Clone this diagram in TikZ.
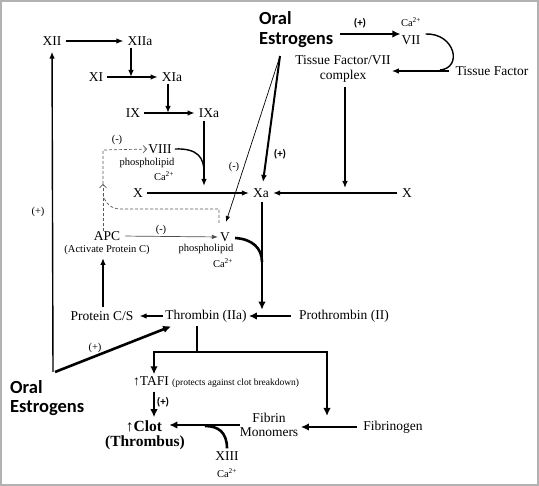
\documentclass[tikz,border=0pt]{standalone}
\usepackage{fontspec}
\setmainfont{Liberation Serif}
\newfontfamily\oefont{Carlito}
\usetikzlibrary{arrows.meta,calc}
\begin{document}
\begin{tikzpicture}[x=1pt,y=-1pt,
  lbl/.style={font=\fontsize{13.5}{15}\selectfont, inner sep=0pt},
  sm/.style={font=\fontsize{10.5}{12}\selectfont, inner sep=0pt},
  tiny/.style={font=\fontsize{10.5}{12}\selectfont, inner sep=0pt},
  sign/.style={font=\fontsize{10.5}{12}\selectfont, inner sep=0pt},
  bsign/.style={font=\oefont\bfseries\fontsize{11}{12}\selectfont, inner sep=0pt},
  oe/.style={font=\oefont\bfseries\fontsize{18.5}{22}\selectfont, inner sep=0pt, anchor=west},
  bold/.style={font=\bfseries\fontsize{15.5}{17}\selectfont, inner sep=0pt},
  arr/.style={line width=1.4pt, -{Latex[length=7pt,width=5.5pt]}},
  tarr/.style={line width=2.6pt, -{Latex[length=8pt,width=7.5pt]}},
  tline/.style={line width=2.6pt},
  thinarr/.style={line width=0.7pt, -{Latex[length=6pt,width=4.5pt]}},
  dsh/.style={line width=0.7pt, gray!70!black, dash pattern=on 3pt off 2pt},
  gap/.style={shorten <=4pt, shorten >=4pt},
]
\useasboundingbox (0,0) rectangle (539,486);
\draw[gray!60, line width=1.5pt] (1,1) rectangle (538,485);

% ---- nodes
\node[lbl] (XII) at (52,41) {XII};
\node[lbl] (XIIa) at (140,41) {XIIa};
\node[lbl] (XI) at (96,77) {XI};
\node[lbl] (XIa) at (172,77) {XIa};
\node[lbl] (IX) at (133,113) {IX};
\node[lbl] (IXa) at (209,113) {IXa};
\node[lbl] (VIII) at (160,149) {VIII};
\node[sm] (VIIIp) at (147,163) {phospholipid};
\node[tiny] (VIIIca) at (164,176) {Ca\textsuperscript{2+}};
\node[lbl] (X) at (138,193) {X};
\node[lbl] (Xa) at (261,193) {Xa};
\node[lbl] (Xr) at (407,193) {X};
\node[lbl] (APC) at (107,236) {APC};
\node[sm] (APCs) at (107,250) {(Activate Protein C)};
\node[lbl] (V) at (225,237) {V};
\node[sm] (Vp) at (206,249) {phospholipid};
\node[tiny] (Vca) at (223,263) {Ca\textsuperscript{2+}};
\node[lbl] (Thr) at (206,316) {Thrombin (IIa)};
\node[lbl] (Pro) at (344,316) {Prothrombin (II)};
\node[lbl] (PCS) at (102,316) {Protein C/S};
\node[oe] (OEa) at (259,18) {Oral};
\node[oe] (OEb) at (259,40) {Estrogens};
\node[tiny] (CaVII) at (411,22) {Ca\textsuperscript{2+}};
\node[lbl] (VII) at (411,40) {VII};
\node[lbl, align=center, font=\fontsize{13.5}{15}\selectfont] (TFVII) at (343,69) {Tissue Factor/VII\\complex};
\node[lbl] (TF) at (492,71) {Tissue Factor};
\node[oe] (OEc) at (10,387) {Oral};
\node[oe] (OEd) at (10,408) {Estrogens};
\node[lbl, anchor=west] (TAFI) at (133,382) {↑TAFI {\fontsize{9.5}{10}\selectfont (protects against clot breakdown)}};
\node[bold] (Clot) at (144,426) {↑Clot};
\node[bold] (Thb) at (145,443) {(Thrombus)};
\node[lbl, align=center, font=\fontsize{13.5}{14.5}\selectfont] (Fib) at (269,425) {Fibrin\\Monomers};
\node[lbl] (Fgn) at (393,427) {Fibrinogen};
\node[lbl] (XIII) at (227,456) {XIII};
\node[tiny] (XIIIca) at (227,473) {Ca\textsuperscript{2+}};

% ---- sign labels
\node[sign] (s1) at (117,140) {(-)};
\node[sign] (s2) at (161,230) {(-)};
\node[sign] (s3) at (234,167) {(-)};
\node[bsign] (s4) at (280,154) {(+)};
\node[bsign] (s5) at (360,23) {(+)};
\node[sign] (s6) at (38,212) {(+)};
\node[sign] (s7) at (95,348) {(+)};
\node[bsign] (s8) at (163,402) {(+)};

% ---- junction coordinates
\coordinate (j1) at (131,77);
\coordinate (j2) at (168,113);
\coordinate (j3) at (204,186);
\coordinate (j4) at (204,172);
\coordinate (j5) at (345,188);
\coordinate (j6) at (262,262);
\coordinate (j7) at (197,352);
\coordinate (j8) at (154,352);
\coordinate (j9) at (327,352);
\coordinate (j10) at (440,70);
\coordinate (j11) at (205,426);
\coordinate (j12) at (327,416);
\coordinate (oeS) at (280,56);
\coordinate (oeB) at (53,372);
\coordinate (oeV) at (340,34);
\coordinate (vTip) at (226,222);
\coordinate (xaTip) at (263,182);
\coordinate (d1) at (103,150);
\coordinate (d2) at (103,184);
\coordinate (d3) at (219,209);
\coordinate (d4) at (219,223);

% ---- intrinsic cascade
\draw[arr, gap] (XII) -- (XIIa);
\draw[arr, gap] (XI) -- (XIa);
\draw[arr, gap] (IX) -- (IXa);
\draw[arr, shorten <=2pt] (XIIa.south -| j1) -- (j1);
\draw[arr, shorten <=2pt] (XIa.south -| j2) -- (j2);
\draw[arr, shorten <=3pt] (IXa.south -| j3) -- (j3);
\draw[line width=1.4pt] ($(VIII.east)+(3,0)$) .. controls (198,148) and (204,158) .. (j4);
\draw[arr, gap] (X) -- (Xa);
\draw[arr, shorten <=5pt, shorten >=4pt] (Xr) -- (Xa);

% ---- extrinsic
\draw[line width=2.8pt, -{Latex[length=8pt,width=7.5pt]}, shorten >=1pt] (oeV) -- (oeV -| VII.west);
\draw[line width=1.4pt] ($(VII.east)+(5,-6)$) .. controls (455,33) and (463,68) .. (j10);
\draw[arr, shorten <=6pt, shorten >=1pt] (TF.west) -- (TF.west -| TFVII.east);
\draw[line width=1.2pt, -{Latex[length=7pt,width=5.5pt]}, shorten <=4pt] (TFVII.south -| j5) -- (j5);

% ---- oral estrogens (top)
\draw[line width=2pt, -{Latex[length=7pt,width=6pt]}] (oeS) -- (xaTip);
\draw[thinarr] (oeS) -- (vTip);

% ---- common pathway
\draw[tarr, shorten <=4pt, shorten >=0pt] (Xa.south -| j6) -- (Thr.north -| j6);
\draw[tline] ($(V.east)+(5,1)$) .. controls (252,239) and (262,248) .. (j6);
\draw[tarr, shorten <=8pt, shorten >=2pt] (Pro) -- (Thr);
\draw[arr, shorten <=2pt, shorten >=6pt] (Thr) -- (PCS);
\draw[arr, shorten <=4pt, shorten >=3pt] (PCS.north -| d1) -- (APCs.south -| d1);
\draw[thinarr, gray!60!black, shorten <=5pt, shorten >=2pt] (APC.east) -- (V.west);

% ---- APC dashed inhibition
\draw[dsh, -{Straight Barb[length=3.5pt,width=7pt]}] (APC.north -| d1) -- (d2);
\draw[dsh, -{Straight Barb[length=3.5pt,width=7pt]}, shorten >=1pt] (d2) -- (d1) -- (VIII.west);
\draw[dsh] (d4) -- (d3) -- (120,209) to[out=180,in=-80] ($(d2)+(0,10)$);

% ---- oral estrogens (bottom)
\draw[arr, shorten >=6pt] (oeB) -- (XII);
\draw[tarr] ($(oeB)+(2,0)$) -- ($(Thr.south west)+(6,4)$);

% ---- thrombin outputs
\draw[tline, shorten <=4pt] (Thr.south -| j7) -- (j7);
\draw[tarr, line join=miter, shorten >=2pt] (j7) -- (j8) -- (TAFI.north -| j8);
\draw[tarr, line join=miter] (j7) -- (j9) -- (j12);
\draw[tarr, shorten <=4pt, shorten >=3pt] (TAFI.south -| j8) -- (Clot.north -| j8);
\draw[tarr, shorten >=7pt] (Fib.west) -- (Fib.west -| Clot.east);
\draw[tline] ($(XIII.north)+(0,-3)$) .. controls (227,432) and (218,426) .. (j11);
\draw[tarr, shorten <=6pt, shorten >=2.5pt] (Fgn.west) -- (Fgn.west -| Fib.east);
\end{tikzpicture}
\end{document}
